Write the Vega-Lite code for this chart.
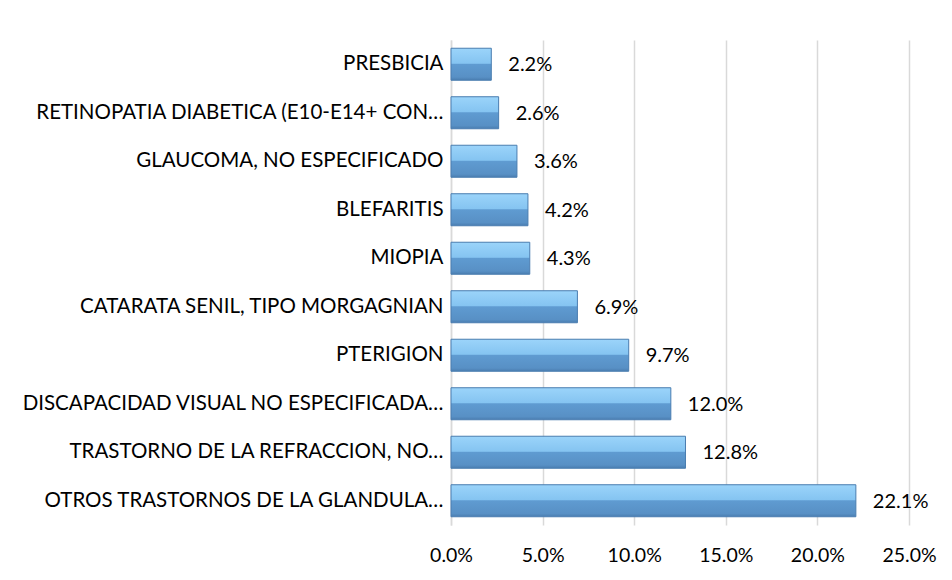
{
  "$schema": "https://vega.github.io/schema/vega-lite/v6.json",
  "width": 458,
  "height": 485,
  "autosize": "none",
  "padding": {"left": 451, "top": 40, "right": 43, "bottom": 55},
  "background": "white",
  "config": {
    "view": {"stroke": null},
    "font": "Lato"
  },
  "data": {
    "values": [
      {"diagnostico": "PRESBICIA", "pct": 0.022},
      {"diagnostico": "RETINOPATIA DIABETICA (E10-E14+ CON…", "pct": 0.026},
      {"diagnostico": "GLAUCOMA, NO ESPECIFICADO", "pct": 0.036},
      {"diagnostico": "BLEFARITIS", "pct": 0.042},
      {"diagnostico": "MIOPIA", "pct": 0.043},
      {"diagnostico": "CATARATA SENIL, TIPO MORGAGNIAN", "pct": 0.069},
      {"diagnostico": "PTERIGION", "pct": 0.097},
      {"diagnostico": "DISCAPACIDAD VISUAL NO ESPECIFICADA…", "pct": 0.12},
      {"diagnostico": "TRASTORNO DE LA REFRACCION, NO…", "pct": 0.128},
      {"diagnostico": "OTROS TRASTORNOS DE LA GLANDULA…", "pct": 0.221}
    ]
  },
  "encoding": {
    "y": {
      "field": "diagnostico",
      "type": "nominal",
      "sort": null,
      "title": null,
      "scale": {"paddingInner": 0.34, "paddingOuter": 0.17},
      "axis": {
        "ticks": false,
        "domainColor": "#D9D9D9",
        "domainWidth": 1.5,
        "labelFontSize": 20.5,
        "labelColor": "#000000",
        "labelPadding": 8,
        "labelLimit": 450,
        "labelFont": "Lato"
      }
    },
    "x": {
      "field": "pct",
      "type": "quantitative",
      "title": null,
      "scale": {"domain": [0, 0.25], "nice": false},
      "axis": {
        "format": ".1%",
        "values": [0, 0.05, 0.1, 0.15, 0.2, 0.25],
        "domain": false,
        "ticks": false,
        "grid": true,
        "gridColor": "#D9D9D9",
        "gridWidth": 1.5,
        "labelFontSize": 19.5,
        "labelColor": "#000000",
        "labelPadding": 21,
        "labelFlush": false,
        "labelOverlap": false,
        "labelFont": "Lato"
      }
    }
  },
  "layer": [
    {
      "mark": {
        "type": "bar",
        "stroke": "#4A7DB0",
        "strokeWidth": 1,
        "fill": {
          "gradient": "linear",
          "x1": 0, "y1": 0, "x2": 0, "y2": 1,
          "stops": [
            {"offset": 0, "color": "#9BD4FA"},
            {"offset": 0.47, "color": "#85C4F1"},
            {"offset": 0.5, "color": "#5F9BD1"},
            {"offset": 0.9, "color": "#5890C5"},
            {"offset": 1, "color": "#4A7DB0"}
          ]
        }
      }
    },
    {
      "mark": {
        "type": "text",
        "align": "left",
        "baseline": "middle",
        "dx": 17,
        "dy": 1,
        "fontSize": 20,
        "color": "#000000",
        "font": "Lato"
      },
      "encoding": {
        "text": {"field": "pct", "type": "quantitative", "format": ".1%"}
      }
    }
  ]
}
